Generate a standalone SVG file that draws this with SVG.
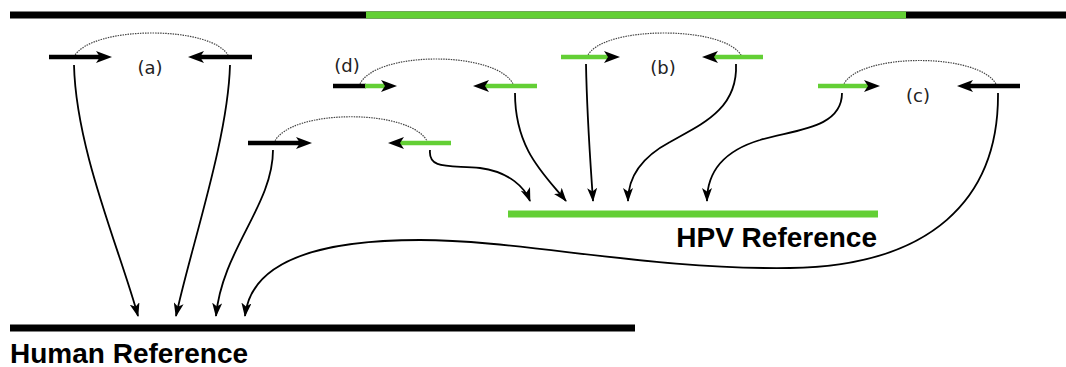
<svg xmlns="http://www.w3.org/2000/svg" width="1066" height="367" viewBox="0 0 1066 367">
  <style>
    .ref { stroke-width: 7; fill: none; }
    .blk { stroke: #000; }
    .grn { stroke: #63cf35; }
    .read { stroke-width: 4.5; fill: none; marker-end: url(#readHead); }
    .seg { stroke-width: 4.5; fill: none; }
    .pair { stroke: #444; stroke-width: 1.2; stroke-dasharray: 1.5 1; fill: none; }
    .conn { stroke: #000; stroke-width: 1.8; fill: none; marker-end: url(#connHead); }
    .lbl { font-family: "DejaVu Sans", sans-serif; font-size: 18px; fill: #222; text-anchor: middle; }
    .title { font-family: "Liberation Sans", Arial, sans-serif; font-weight: bold; font-size: 28px; fill: #000; }
  </style>
  <defs>
    <!-- notched head for read arrows; line ends at the notch -->
    <marker id="readHead" markerUnits="userSpaceOnUse" viewBox="0 0 16 12" refX="4" refY="6" markerWidth="16" markerHeight="12" orient="auto">
      <path d="M16,6 L0,0 L4,6 L0,12 Z" fill="#000"/>
    </marker>
    <!-- head for alignment connectors; path ends at the tip -->
    <marker id="connHead" markerUnits="userSpaceOnUse" viewBox="0 0 14 10" refX="13" refY="5" markerWidth="14" markerHeight="10" orient="auto">
      <path d="M14,5 L0,0 L3.5,5 L0,10 Z" fill="#000"/>
    </marker>
  </defs>

  <!-- genome with integrated HPV segment -->
  <g id="genome">
    <line class="ref blk" x1="10" y1="15" x2="1066" y2="15" stroke-width="6"/>
    <line class="ref grn" x1="366" y1="15" x2="906" y2="15" stroke-width="6"/>
  </g>

  <!-- (a) human / human pair -->
  <g id="pair-a">
    <path class="pair" d="M74,57 C90,25 215,25 229,57"/>
    <line class="read blk" x1="49" y1="57" x2="100" y2="57"/>
    <line class="read blk" x1="252" y1="57" x2="200" y2="57"/>
    <text class="lbl" x="150" y="74">(a)</text>
  </g>

  <!-- (d) split read pair -->
  <g id="pair-d">
    <path class="pair" d="M359,86 C372,50 500,50 514,86"/>
    <line class="seg blk" x1="333" y1="86" x2="366" y2="86"/>
    <line class="read grn" x1="365" y1="86" x2="385" y2="86"/>
    <line class="read grn" x1="537" y1="86" x2="485" y2="86"/>
    <text class="lbl" x="347" y="72">(d)</text>
  </g>

  <!-- (b) HPV / HPV pair -->
  <g id="pair-b">
    <path class="pair" d="M587,57 C600,25 728,25 742,57"/>
    <line class="read grn" x1="561" y1="57" x2="608" y2="57"/>
    <line class="read grn" x1="763" y1="57" x2="714" y2="57"/>
    <text class="lbl" x="663" y="74">(b)</text>
  </g>

  <!-- (c) HPV / human pair -->
  <g id="pair-c">
    <path class="pair" d="M843,86 C856,52 983,52 997,86"/>
    <line class="read grn" x1="818" y1="86" x2="868" y2="86"/>
    <line class="read blk" x1="1020" y1="86" x2="969" y2="86"/>
    <text class="lbl" x="918" y="102">(c)</text>
  </g>

  <!-- human / HPV pair -->
  <g id="pair-mixed">
    <path class="pair" d="M274,143 C288,108 414,108 428,143"/>
    <line class="read blk" x1="248" y1="143" x2="300" y2="143"/>
    <line class="read grn" x1="451" y1="143" x2="400" y2="143"/>
  </g>

  <!-- reference sequences -->
  <g id="hpv-reference">
    <line class="ref grn" x1="508" y1="214" x2="878" y2="214"/>
    <text class="title" x="877" y="247" text-anchor="end">HPV Reference</text>
  </g>
  <g id="human-reference">
    <line class="ref blk" x1="10" y1="328" x2="635" y2="328"/>
    <text class="title" x="10" y="363">Human Reference</text>
  </g>

  <!-- alignments of reads to the references -->
  <g id="connectors">
    <path class="conn" d="M74,65 C76,150 120,250 138,316"/>
    <path class="conn" d="M230,65 C228,140 190,250 176,316"/>
    <path class="conn" d="M273,150 C273,205 222,250 216,316"/>
    <path class="conn" d="M998,93 C999,200 930,266 790,268 C650,270 520,240 420,240 C300,240 250,270 245,316"/>
    <path class="conn" d="M430,150 C428,170 450,165 480,168 C510,172 525,188 530,201"/>
    <path class="conn" d="M515,93 C515,150 545,175 566,201"/>
    <path class="conn" d="M586,64 C587,120 591,170 593,201"/>
    <path class="conn" d="M736,64 C738,110 700,125 670,142 C640,158 628,178 628,201"/>
    <path class="conn" d="M842,93 C842,130 790,130 760,140 C720,152 707,175 707,201"/>
  </g>
</svg>
